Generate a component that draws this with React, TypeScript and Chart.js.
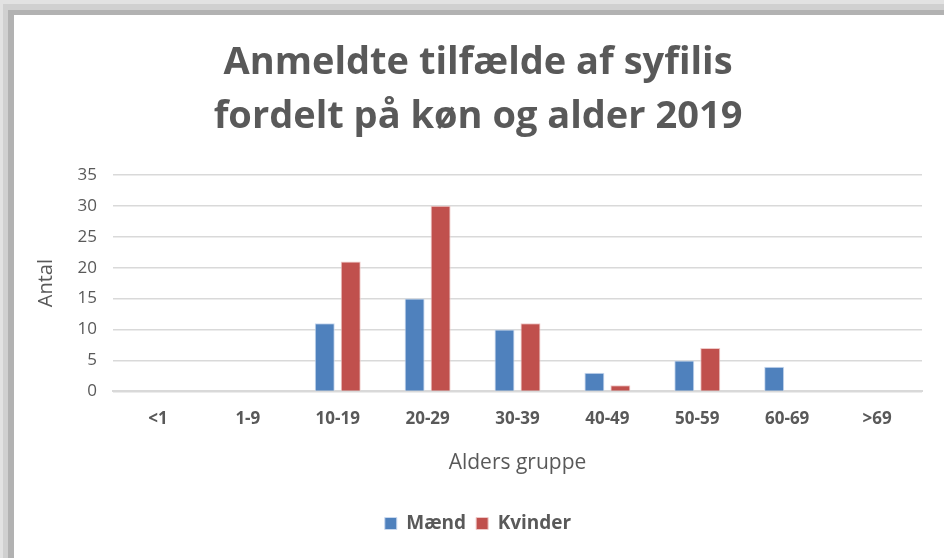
import React, { useEffect, useRef } from "react";
import { Chart, registerables } from "chart.js";

Chart.register(...registerables);

const categories = ["<1", "1-9", "10-19", "20-29", "30-39", "40-49", "50-59", "60-69", ">69"];
const maendValues = [0, 0, 11, 15, 10, 3, 5, 4, 0];
const kvinderValues = [0, 0, 21, 30, 11, 1, 7, 0, 0];
const titleLines = ["Anmeldte tilfælde af syfilis", "fordelt på køn og alder 2019"];
const yTitle = "Antal";
const xTitle = "Alders gruppe";

const FONT = "'Open Sans', 'Noto Sans', sans-serif";
const TEXT = "#595959";

export default function App() {
  const ref = useRef<HTMLCanvasElement>(null);
  useEffect(() => {
    document.body.style.margin = "0";
    const ctx = ref.current!;
    const chart = new Chart(ctx, {
      type: "bar",
      data: {
        labels: categories,
        datasets: [
          {
            label: "Mænd",
            data: maendValues,
            backgroundColor: "#4F81BD",
            borderColor: "#c9d9ef",
            borderWidth: 1,
            categoryPercentage: 0.578,
            barPercentage: 0.77,
          },
          {
            label: "Kvinder",
            data: kvinderValues,
            backgroundColor: "#C0504D",
            borderColor: "#efc9c8",
            borderWidth: 1,
            categoryPercentage: 0.578,
            barPercentage: 0.77,
          },
        ],
      },
      options: {
        animation: false,
        responsive: false,
        layout: { padding: { left: 34, right: 22, top: 0, bottom: 15 } },
        plugins: {
          title: {
            display: true,
            text: titleLines,
            color: TEXT,
            font: { family: FONT, size: 38, weight: "bold", lineHeight: 1.42 },
            padding: { top: 36, bottom: 31 },
          },
          legend: {
            position: "bottom",
            labels: {
              color: TEXT,
              font: { family: FONT, size: 19, weight: "bold" },
              boxWidth: 12,
              boxHeight: 12,
              padding: 10,
            },
          },
          tooltip: { enabled: false },
        },
        scales: {
          x: {
            grid: { display: false, drawTicks: false },
            border: { display: true, color: "#d9d9d9", width: 2 },
            ticks: { color: TEXT, font: { family: FONT, size: 17, weight: "bold" }, padding: 18, maxRotation: 0 },
            title: {
              display: true,
              text: xTitle,
              color: TEXT,
              font: { family: FONT, size: 21 },
              padding: { top: 3, bottom: 28 },
            },
          },
          y: {
            min: 0,
            max: 35,
            ticks: { stepSize: 5, color: TEXT, font: { family: FONT, size: 17 }, padding: 16 },
            grid: { color: "#d9d9d9", lineWidth: 1.5, drawTicks: false },
            border: { display: false },
            title: {
              display: true,
              text: yTitle,
              color: TEXT,
              font: { family: FONT, size: 20 },
              padding: { top: 0, bottom: 4 },
            },
            afterFit: (s: any) => {
              s.width = 79;
            },
          },
        },
      },
    });
    return () => chart.destroy();
  }, []);

  return (
    <div
      style={{
        position: "fixed",
        left: 0,
        top: 0,
        width: 944,
        height: 558,
        background: "#e2e2e2",
        overflow: "hidden",
      }}
    >
      <div style={{ position: "absolute", left: 3, top: 4, right: 0, bottom: 0, background: "#d0d0d0" }} />
      <div style={{ position: "absolute", left: 8, top: 10, right: 0, bottom: 0, background: "#b2b2b2" }} />
      <div style={{ position: "absolute", left: 14, top: 15, right: 0, bottom: 0, background: "#ffffff" }} />
      <canvas ref={ref} width={944} height={558} style={{ position: "absolute", left: 0, top: 0 }} />
    </div>
  );
}
